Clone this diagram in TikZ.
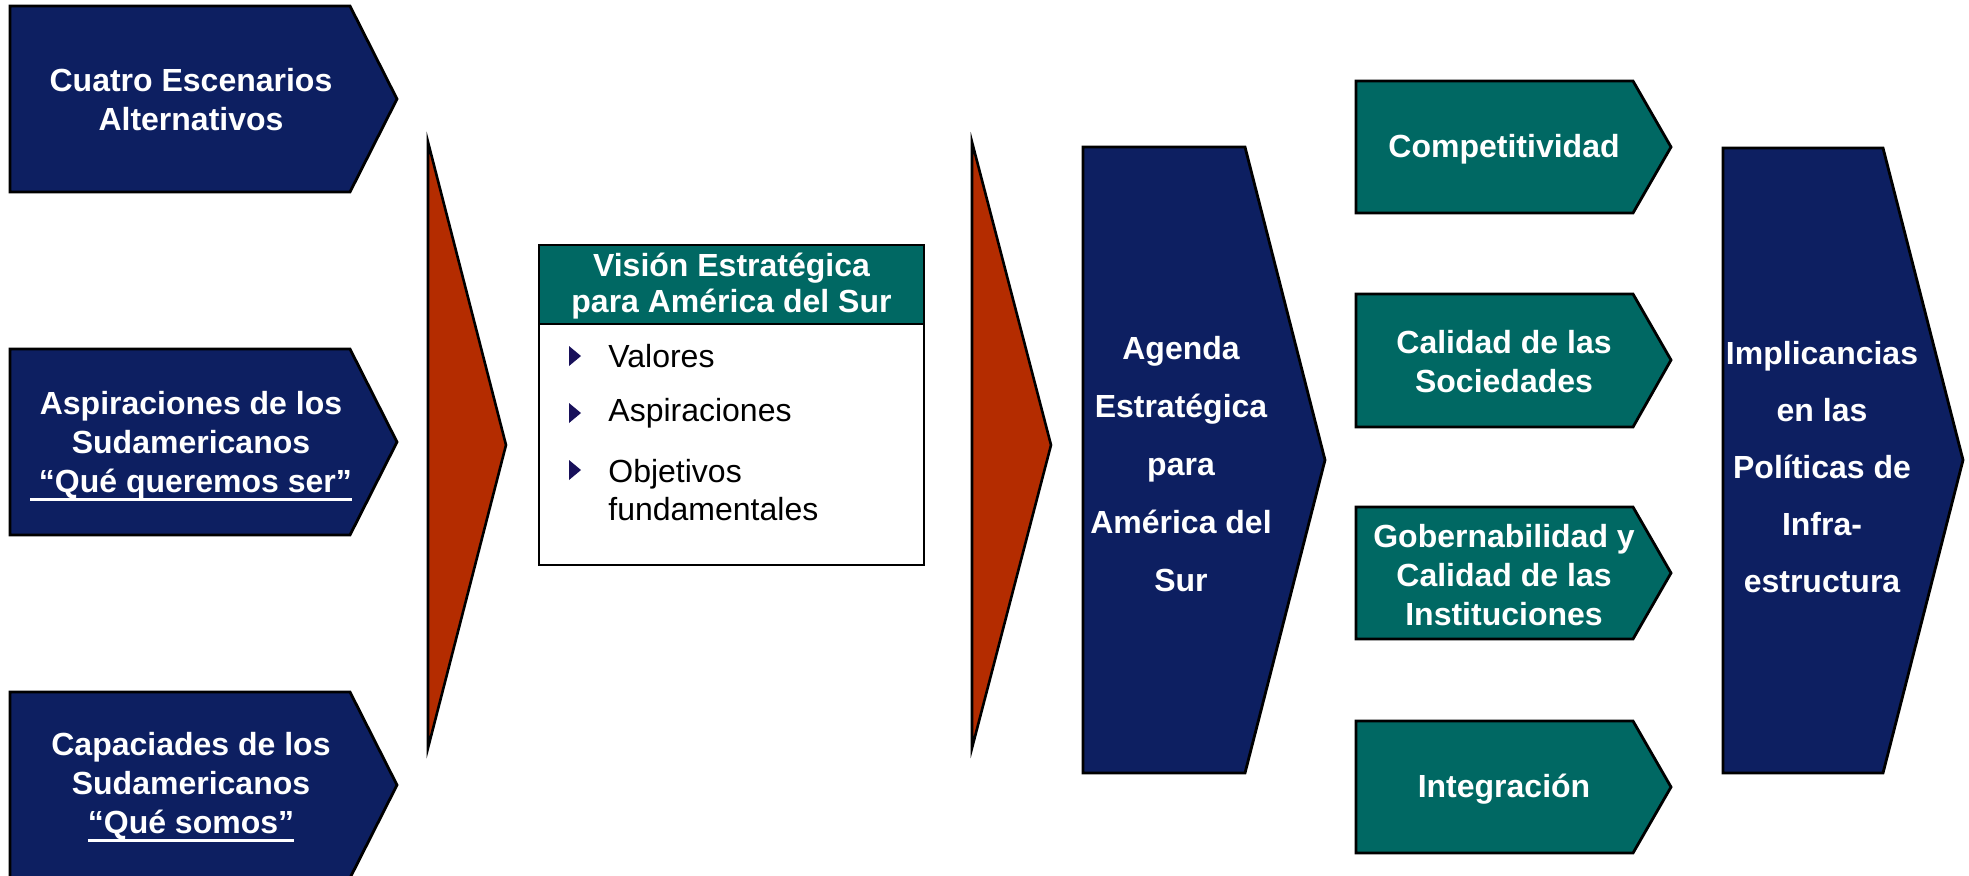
\documentclass[tikz,border=0pt]{standalone}
\usepackage{fontspec}
\setmainfont{Liberation Sans}
\usetikzlibrary{positioning}
\definecolor{navyblue}{RGB}{13,31,97}
\definecolor{tealgreen}{RGB}{0,104,99}
\definecolor{rustred}{RGB}{180,44,0}
\definecolor{bulletblue}{RGB}{24,16,90}
\newcommand{\ulin}[1]{\setbox0=\hbox{#1}\leavevmode\rlap{\rule[-4pt]{\wd0}{1.4pt}}\box0}
\tikzset{
  navybox/.style={fill=navyblue, draw=black, line width=1.4pt},
  tealbox/.style={fill=tealgreen, draw=black, line width=1.4pt},
  redtri/.style={fill=rustred, draw=black, line width=1.3pt},
  whitetxt/.style={text=white, font=\fontsize{16}{19.5}\selectfont\bfseries, align=center, inner sep=0pt},
  itemtxt/.style={anchor=west, font=\fontsize{16}{19}\selectfont, align=left, inner sep=0pt}
}

\begin{document}
\begin{tikzpicture}[x=0.5pt,y=-0.5pt]
\useasboundingbox (0,0) rectangle (1969,875);
\clip (0,0) rectangle (1969,875);
\draw[navybox] (10,6) -- (350,6) -- (397,99) -- (350,192) -- (10,192) -- cycle;
\draw[navybox] (10,349) -- (350,349) -- (397,442) -- (350,535) -- (10,535) -- cycle;
\draw[navybox] (10,692) -- (350,692) -- (397,785) -- (350,878) -- (10,878) -- cycle;
\node[whitetxt] (esc) at (191,100) {Cuatro Escenarios\\Alternativos};
\node[whitetxt] (asp) at (191,446) {Aspiraciones de los\\Sudamericanos\\\ulin{~“Qué queremos ser”}};
\node[whitetxt] (cap) at (191,787) {Capaciades de los\\Sudamericanos\\\ulin{“Qué somos”}};

\draw[redtri] (428,142) -- (506,445) -- (428,748) -- cycle;

\draw[black, line width=1.4pt, fill=white] (539,245) rectangle (924,565);
\draw[tealbox] (539,245) rectangle (924,324);
\node[whitetxt, font=\fontsize{16}{18}\selectfont\bfseries] (vis) at (731.5,286) {Visión Estratégica\\para América del Sur};
\foreach \y in {356,413,470}
  \fill[bulletblue] (569,{\y-10}) -- (581,\y) -- (569,{\y+10}) -- cycle;
\node[itemtxt] (val) at (608,356) {Valores};
\node[itemtxt] (aspi) at (608,413) {Aspiraciones};
\node[itemtxt] (obj) at (608,490) {Objetivos\\fundamentales};

\draw[redtri] (972,142) -- (1051,445) -- (972,748) -- cycle;

\draw[navybox] (1083,147) -- (1245,147) -- (1325,460) -- (1245,773) -- (1083,773) -- cycle;
\node[whitetxt, font=\fontsize{16}{29}\selectfont\bfseries] (agenda) at (1181,464) {Agenda\\Estratégica\\para\\América del\\Sur};

\draw[tealbox] (1356,81) -- (1633,81) -- (1671,147) -- (1633,213) -- (1356,213) -- cycle;
\draw[tealbox] (1356,294) -- (1633,294) -- (1671,360) -- (1633,427) -- (1356,427) -- cycle;
\draw[tealbox] (1356,507) -- (1633,507) -- (1671,573) -- (1633,639) -- (1356,639) -- cycle;
\draw[tealbox] (1356,721) -- (1633,721) -- (1671,787) -- (1633,853) -- (1356,853) -- cycle;
\node[whitetxt] (comp) at (1504,149) {Competitividad};
\node[whitetxt] (calid) at (1504,362) {Calidad de las\\Sociedades};
\node[whitetxt] (gob) at (1504,575) {Gobernabilidad y\\Calidad de las\\Instituciones};
\node[whitetxt] (integ) at (1504,789) {Integración};

\draw[navybox] (1723,148) -- (1883,148) -- (1963,460) -- (1883,773) -- (1723,773) -- cycle;
\node[whitetxt, font=\fontsize{16}{28.5}\selectfont\bfseries] (impl) at (1822,467) {Implicancias\\en las\\Políticas de\\Infra-\\estructura};
\end{tikzpicture}
\end{document}
